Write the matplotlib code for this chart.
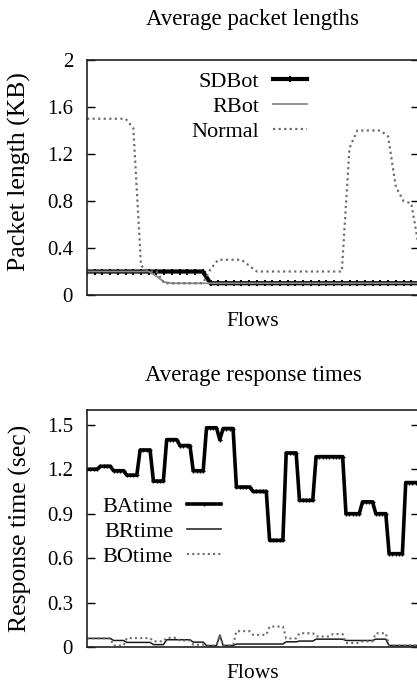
import numpy as np
import matplotlib
matplotlib.use("Agg")
import matplotlib.pyplot as plt

plt.rcParams['font.family'] = ['Liberation Serif', 'DejaVu Serif']

# ---- top panel: average packet lengths (KB), one value per flow ----
pkt_flows = np.arange(44)
sdbot = [0.2, 0.2, 0.2, 0.2, 0.2, 0.2, 0.2, 0.2, 0.2, 0.2, 0.2, 0.2, 0.2, 0.2, 0.2, 0.2,
         0.1, 0.1, 0.1, 0.1, 0.1, 0.1, 0.1, 0.1, 0.1, 0.1, 0.1, 0.1, 0.1, 0.1, 0.1, 0.1,
         0.1, 0.1, 0.1, 0.1, 0.1, 0.1, 0.1, 0.1, 0.1, 0.1, 0.1, 0.1]
rbot = [0.2, 0.2, 0.2, 0.2, 0.2, 0.2, 0.2, 0.2, 0.2, 0.16, 0.11, 0.1, 0.1, 0.1, 0.1, 0.1,
        0.1, 0.1, 0.1, 0.1, 0.1, 0.1, 0.1, 0.1, 0.1, 0.1, 0.1, 0.1, 0.1, 0.1, 0.1, 0.1,
        0.1, 0.1, 0.1, 0.1, 0.1, 0.1, 0.1, 0.1, 0.1, 0.1, 0.1, 0.1]
normal = [1.5, 1.5, 1.5, 1.5, 1.5, 1.5, 1.42, 0.25, 0.2, 0.2, 0.1, 0.1, 0.1, 0.1, 0.1, 0.1,
          0.22, 0.3, 0.3, 0.3, 0.3, 0.25, 0.2, 0.2, 0.2, 0.2, 0.2, 0.2, 0.2, 0.2, 0.2, 0.2,
          0.2, 0.2, 1.25, 1.4, 1.4, 1.4, 1.4, 1.35, 0.92, 0.8, 0.78, 0.4]
pkt_ticks = [0, 0.4, 0.8, 1.2, 1.6, 2]
pkt_ticklabels = ['0', '0.4', '0.8', '1.2', '1.6', '2']

# ---- bottom panel: average response times (sec) ----
# each flow segment lasts a few samples; counts and levels
seg_len = [4, 4, 4, 4, 4, 4, 4, 4, 4, 4, 1, 4, 5, 5, 5, 4, 5, 5, 4, 5, 4, 4, 5, 5]
ba_levels = [1.20, 1.22, 1.19, 1.16, 1.33, 1.12, 1.40, 1.36, 1.19, 1.48, 1.40, 1.475,
             1.08, 1.05, 0.72, 1.31, 0.99, 1.285, 1.285, 0.90, 0.98, 0.90, 0.63, 1.11]
br_levels = [0.058, 0.058, 0.044, 0.031, 0.031, 0.016, 0.049, 0.049, 0.033, 0.009, 0.08, 0.01,
             0.02, 0.02, 0.02, 0.035, 0.04, 0.053, 0.053, 0.044, 0.044, 0.053, 0.01, 0.01]
bo_levels = [0.058, 0.058, 0.01, 0.06, 0.06, 0.038, 0.062, 0.044, 0.016, 0.01, 0.08, 0.01,
             0.107, 0.082, 0.138, 0.058, 0.093, 0.071, 0.087, 0.027, 0.038, 0.093, 0.01, 0.01]
rt_ticks = [0, 0.3, 0.6, 0.9, 1.2, 1.5]
rt_ticklabels = ['0', '0.3', '0.6', '0.9', '1.2', '1.5']

ba_time = np.repeat(ba_levels, seg_len)
br_time = np.repeat(br_levels, seg_len)
bo_time = np.repeat(bo_levels, seg_len)
rt_flows = np.arange(len(ba_time))

W, H = 417, 684
fig = plt.figure(figsize=(W / 100, H / 100), dpi=100)


def style_axes(ax, ticks, labels, ymax):
    ax.set_ylim(0, ymax)
    ax.set_yticks(ticks)
    ax.set_yticklabels(labels)
    ax.set_xticks([])
    ax.tick_params(axis='y', direction='in', length=6, width=1, pad=10,
                   labelsize=15, right=True, left=True)
    for s in ax.spines.values():
        s.set_linewidth(1.2)
        s.set_color('#222222')


# top panel
ax1 = fig.add_axes([87 / W, 1 - 295 / H, 332 / W, 235 / H])
ax1.plot(pkt_flows, sdbot, color='black', lw=3, marker='+', ms=5, mew=1.5, label='SDBot')
ax1.plot(pkt_flows, rbot, color='#8a8a8a', lw=1.3, label='RBot')
ax1.plot(pkt_flows, normal, color='#6e6e6e', lw=1.6, ls=(0, (1, 1.5)), label='Normal')
ax1.set_xlim(0, 43)
style_axes(ax1, pkt_ticks, pkt_ticklabels, 2)
ax1.set_title('Average packet lengths', fontsize=16.5, pad=25)
ax1.set_xlabel('Flows', fontsize=15.5, labelpad=12)
ax1.set_ylabel('Packet length (KB)', fontsize=18.5)
ax1.yaxis.set_label_coords(-0.168, 0.525)
ax1.legend(loc='upper right', bbox_to_anchor=(307 / W, 1 - 71 / H),
           bbox_transform=fig.transFigure, frameon=False, markerfirst=False,
           fontsize=16, handlelength=1.55, handletextpad=0.6, labelspacing=0.2,
           borderpad=0, borderaxespad=0, numpoints=1)

# bottom panel
ax2 = fig.add_axes([87 / W, 1 - 647 / H, 332 / W, 237 / H])
ax2.plot(rt_flows, ba_time, color='black', lw=2.6, marker='+', ms=3, mew=1, label='BAtime')
ax2.plot(rt_flows, br_time, color='#1a1a1a', lw=1.1, label='BRtime')
ax2.plot(rt_flows, bo_time, color='#6e6e6e', lw=1.5, ls=(0, (1, 1.5)), label='BOtime')
ax2.set_xlim(0, 100)
style_axes(ax2, rt_ticks, rt_ticklabels, 1.6)
ax2.set_title('Average response times', fontsize=16.5, pad=21)
ax2.set_xlabel('Flows', fontsize=15.5, labelpad=12)
ax2.set_ylabel('Response time (sec)', fontsize=18.5)
ax2.yaxis.set_label_coords(-0.166, 0.5)
ax2.legend(loc='upper right', bbox_to_anchor=(221 / W, 1 - 496 / H),
           bbox_transform=fig.transFigure, frameon=False, markerfirst=False,
           fontsize=16, handlelength=1.55, handletextpad=0.6, labelspacing=0.2,
           borderpad=0, borderaxespad=0, numpoints=1)

fig.savefig('out.png', dpi=100)
